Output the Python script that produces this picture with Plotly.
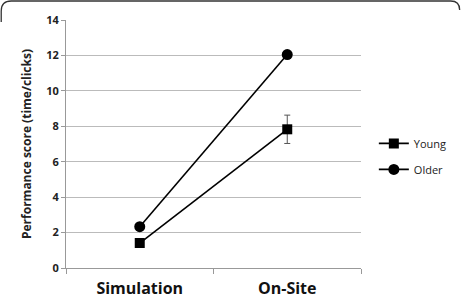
import plotly.graph_objects as go

categories = ["Simulation", "On-Site"]
young = [1.41, 7.83]
older = [2.33, 12.05]
young_err = [0, 0.8]

W, H = 463, 300
L, R, T, B = 66, 101, 20, 32
pw, ph = W - L - R, H - T - B

def px(x):
    return (x - L) / pw

def py(y):
    return (H - B - y) / ph

fig = go.Figure()
fig.add_trace(go.Scatter(
    x=categories, y=young, name="Young", mode="lines+markers", legendgroup="a",
    line=dict(color="#000000", width=1.6),
    marker=dict(symbol="square", size=10, color="#000000"),
    error_y=dict(type="data", array=young_err, visible=True, color="#555555", thickness=1, width=3),
))
fig.add_trace(go.Scatter(
    x=categories, y=older, name="Older", mode="lines+markers", legendgroup="b",
    line=dict(color="#000000", width=1.6),
    marker=dict(symbol="circle", size=11, color="#000000"),
))

border = (f"M {px(1)},{py(22)} L {px(1)},{py(11)} Q {px(1)},{py(1)} {px(11)},{py(1)} "
          f"L {px(452)},{py(1)} Q {px(461)},{py(1)} {px(461)},{py(10)}")
fig.add_shape(type="path", path=border, xref="paper", yref="paper",
              line=dict(color="#333333", width=1.3))

fig.update_layout(
    width=W, height=H,
    margin=dict(l=L, r=R, t=T, b=B),
    paper_bgcolor="white", plot_bgcolor="white",
    font=dict(family="Open Sans", color="#222222"),
    showlegend=True,
    legend=dict(x=1.04, y=0.45, xanchor="left", yanchor="middle",
                font=dict(size=11, family="Open Sans", color="#222222"),
                bgcolor="rgba(0,0,0,0)", traceorder="grouped", tracegroupgap=7, itemwidth=30),
    xaxis=dict(
        type="category", showgrid=False, showline=True, linecolor="#999999", linewidth=1,
        ticks="outside", tickson="boundaries", ticklen=5, tickcolor="#999999",
        ticklabelstandoff=6, automargin=False,
        tickfont=dict(size=16, family="Open Sans", color="#111111", weight="bold"),
        range=[-0.5, 1.5], fixedrange=True,
    ),
    yaxis=dict(
        range=[0, 14], dtick=2, showgrid=True, gridcolor="#bbbbbb", gridwidth=1,
        showline=True, linecolor="#999999", linewidth=1, zeroline=False,
        ticks="outside", ticklen=4, tickcolor="#999999", automargin=False,
        tickfont=dict(size=11, family="Open Sans", color="#222222", weight="bold"),
        title=dict(text="Performance score (time/clicks)", standoff=12,
                   font=dict(size=12, family="Open Sans", color="#222222", weight="bold")),
    ),
)

fig.write_html("out.html")
